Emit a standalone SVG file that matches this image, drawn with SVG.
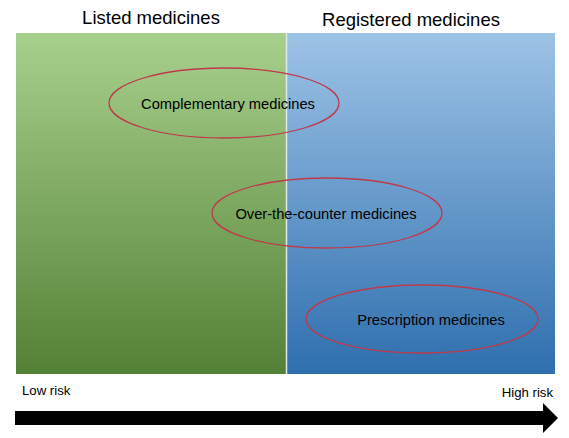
<svg xmlns="http://www.w3.org/2000/svg" width="569" height="438" viewBox="0 0 569 438">
<style>
.t{font-family:"Liberation Sans",Arial,sans-serif;fill:#000}
.h{font-size:18.5px}
.l{font-size:14.7px}
.s{font-size:13.2px}
.e{fill:none;stroke:#c0394a;stroke-width:1.3}
</style>
<defs>
<linearGradient id="g" x1="0" y1="0" x2="0" y2="1">
<stop offset="0" stop-color="#a8d08d"/>
<stop offset="1" stop-color="#538135"/>
</linearGradient>
<linearGradient id="b" x1="0" y1="0" x2="0" y2="1">
<stop offset="0" stop-color="#9dc3e6"/>
<stop offset="1" stop-color="#2e6fae"/>
</linearGradient>
</defs>
<rect width="569" height="438" fill="#fff"/>
<g id="listed">
<rect x="16" y="33" width="270" height="341" fill="url(#g)"/>
<text class="t h" x="151" y="24" text-anchor="middle">Listed medicines</text>
</g>
<g id="registered">
<rect x="287" y="33" width="268" height="341" fill="url(#b)"/>
<text class="t h" x="411" y="26" text-anchor="middle">Registered medicines</text>
</g>
<line x1="286.5" y1="33" x2="286.5" y2="374" stroke="#dfe8ef" stroke-width="1.5"/>
<g id="complementary">
<ellipse class="e" cx="224" cy="103" rx="115" ry="35"/>
<text class="t l" x="228" y="109" text-anchor="middle">Complementary medicines</text>
</g>
<g id="otc">
<ellipse class="e" cx="327" cy="213" rx="115" ry="35"/>
<text class="t l" x="326" y="219" text-anchor="middle">Over-the-counter medicines</text>
</g>
<g id="prescription">
<ellipse class="e" cx="422" cy="319" rx="116" ry="34"/>
<text class="t l" x="431" y="325" text-anchor="middle">Prescription medicines</text>
</g>
<g id="connectors">
<polygon points="15,411 543,411 543,403 558,418 543,433 543,425 15,425" fill="#000"/>
</g>
<text class="t s" x="22" y="395">Low risk</text>
<text class="t s" x="553" y="397" text-anchor="end">High risk</text>
</svg>
